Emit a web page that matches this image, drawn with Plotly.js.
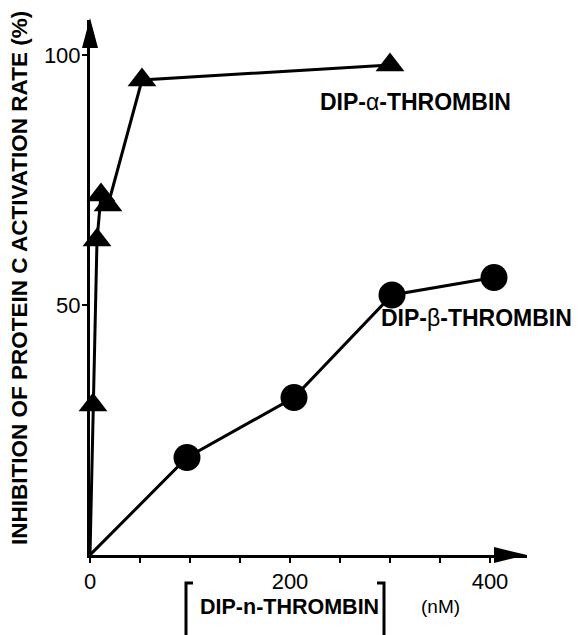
<!DOCTYPE html>
<html>
<head>
<meta charset="utf-8">
<script src="https://cdn.plot.ly/plotly-3.0.1.min.js"></script>
<style>html,body{margin:0;padding:0;background:#fff;}#chart{width:582px;height:635px;}</style>
</head>
<body>
<div id="chart"></div>
<script>
const alphaConc = [3, 7, 11, 18, 52, 300];
const alphaInhib = [30, 63, 72, 70, 95, 98];
const betaConc = [97, 204, 302, 404];
const betaInhib = [19.5, 31.5, 52, 55.5];
const origin = [0];
const xTickVals = [0, 50, 100, 150, 200, 250, 300, 350, 400];
const xTickText = ['0', '', '', '', '200', '', '', '', '400'];
const yTickVals = [50, 100];
const yTickText = ['50', '100'];

const W = 582, H = 635;
const L = 90, R = 55, T = 20, B = 80;
const pw = W - L - R, ph = H - T - B;
const px = v => (v - L) / pw;
const py = v => (H - B - v) / ph;
const FONT = 'Liberation Sans, Arial, Helvetica, sans-serif';

const traces = [
  {
    x: origin.concat(alphaConc), y: origin.concat(alphaInhib), mode: 'lines', type: 'scatter',
    line: {color: '#000', width: 3}, cliponaxis: false, hoverinfo: 'skip'
  },
  {
    x: origin.concat(betaConc), y: origin.concat(betaInhib), mode: 'lines', type: 'scatter',
    line: {color: '#000', width: 3}, cliponaxis: false, hoverinfo: 'skip'
  },
  {
    x: alphaConc, y: alphaInhib, mode: 'markers', type: 'scatter',
    marker: {symbol: 'triangle-up', size: 25, color: '#000'},
    cliponaxis: false, hoverinfo: 'skip'
  },
  {
    x: betaConc, y: betaInhib, mode: 'markers', type: 'scatter',
    marker: {symbol: 'circle', size: 27, color: '#000'},
    cliponaxis: false, hoverinfo: 'skip'
  }
];

function tri(x1, y1, x2, y2, x3, y3) {
  return `M${px(x1)},${py(y1)} L${px(x2)},${py(y2)} L${px(x3)},${py(y3)} Z`;
}
const shapes = [
  {type: 'path', xref: 'paper', yref: 'paper', path: tri(527, 555, 494, 547, 494, 563), fillcolor: '#000', line: {width: 0}},
  {type: 'path', xref: 'paper', yref: 'paper', path: tri(90, 18, 82, 48, 98, 48), fillcolor: '#000', line: {width: 0}},
  {type: 'path', xref: 'paper', yref: 'paper', path: `M${px(193)},${py(583)} L${px(186)},${py(583)} L${px(186)},${py(635)}`, line: {color: '#000', width: 3}},
  {type: 'path', xref: 'paper', yref: 'paper', path: `M${px(377)},${py(583)} L${px(384)},${py(583)} L${px(384)},${py(635)}`, line: {color: '#000', width: 3}}
];

const annotations = [
  {xref: 'paper', yref: 'paper', x: px(19), y: py(278), text: '<b>INHIBITION OF PROTEIN C ACTIVATION RATE (%)</b>',
   textangle: -90, showarrow: false, font: {family: FONT, size: 22.5, color: '#000'}, xanchor: 'center', yanchor: 'middle'},
  {xref: 'paper', yref: 'paper', x: px(415), y: py(102), text: '<b>DIP-</b>α<b>-THROMBIN</b>',
   showarrow: false, font: {family: FONT, size: 23, color: '#000'}, xanchor: 'center', yanchor: 'middle'},
  {xref: 'paper', yref: 'paper', x: px(379), y: py(318), text: '<b>DIP-</b>β<b>-THROMBIN</b>',
   showarrow: false, font: {family: FONT, size: 23, color: '#000'}, xanchor: 'left', yanchor: 'middle'},
  {xref: 'paper', yref: 'paper', x: px(289), y: py(607), text: '<b>DIP-n-THROMBIN</b>',
   showarrow: false, font: {family: FONT, size: 21.5, color: '#000'}, xanchor: 'center', yanchor: 'middle'},
  {xref: 'paper', yref: 'paper', x: px(440), y: py(606), text: '(nM)',
   showarrow: false, font: {family: FONT, size: 19, color: '#000'}, xanchor: 'center', yanchor: 'middle'}
];

const layout = {
  width: W, height: H,
  margin: {l: L, r: R, t: T, b: B, pad: 0},
  paper_bgcolor: '#fff', plot_bgcolor: '#fff',
  showlegend: false,
  font: {family: FONT, color: '#000'},
  xaxis: {
    range: [0, 437], showgrid: false, zeroline: false,
    showline: true, linecolor: '#000', linewidth: 3,
    ticks: 'outside', ticklen: 5, tickwidth: 2, tickcolor: '#000',
    tickvals: xTickVals, ticktext: xTickText,
    tickfont: {family: FONT, size: 22, color: '#000'}
  },
  yaxis: {
    range: [0, 107], showgrid: false, zeroline: false,
    showline: true, linecolor: '#000', linewidth: 3,
    ticks: 'outside', ticklen: 5, tickwidth: 2, tickcolor: '#000',
    tickvals: yTickVals, ticktext: yTickText, ticklabelstandoff: -3,
    tickfont: {family: FONT, size: 22, color: '#000'}
  },
  shapes: shapes,
  annotations: annotations
};

Plotly.newPlot('chart', traces, layout, {displayModeBar: false, staticPlot: true});
</script>
</body>
</html>
